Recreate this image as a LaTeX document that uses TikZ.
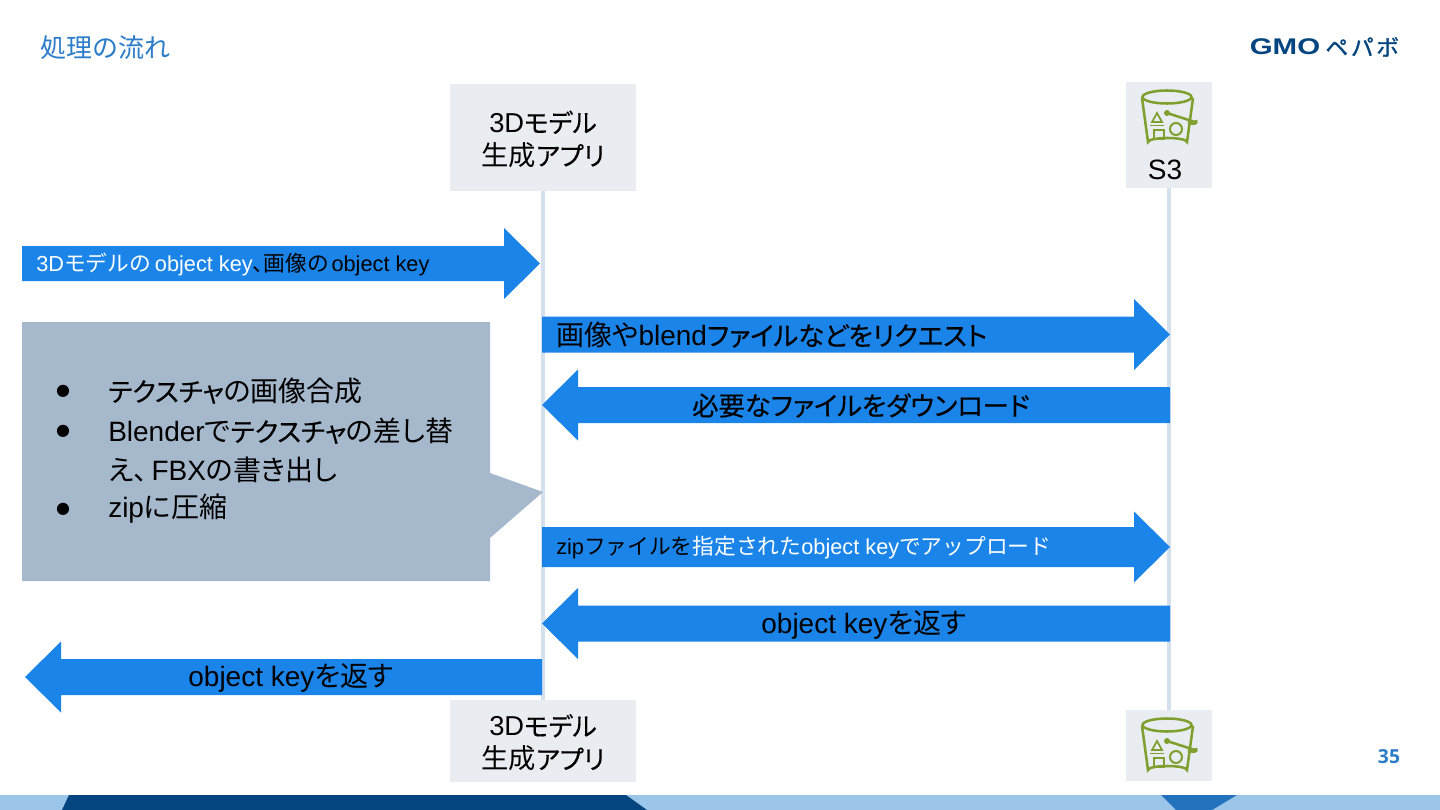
\documentclass[tikz,border=0pt]{standalone}
\usepackage{fontspec}
\setmainfont{Liberation Sans}
\newfontfamily\cjk{Noto Sans CJK JP}
\newfontfamily\cjkp[RawFeature=+palt]{Noto Sans CJK JP}
\newfontfamily\cjkb[Scale=0.94,RawFeature=+palt,FakeBold=0.35]{Noto Sans CJK JP}
\newfontfamily\logofont[RawFeature=+palt,FakeBold=1.2]{Noto Sans CJK JP}
\newfontfamily\numfont{Open Sans}
\newfontfamily\dotfont{DejaVu Sans}
\usetikzlibrary{calc}
\definecolor{flowblue}{HTML}{1A84E8}
\definecolor{calloutgray}{HTML}{A5B8CC}
\definecolor{boxgray}{HTML}{E9EDF2}
\definecolor{lifeblue}{HTML}{D5E0EE}
\definecolor{titleblue}{HTML}{2B7CC9}
\definecolor{bandlight}{HTML}{9CC5EA}
\definecolor{banddark}{HTML}{04457F}
\definecolor{bandmid}{HTML}{2272BD}
\definecolor{bucketgreen}{HTML}{7F9F2E}
\newcommand{\jn}[1]{{\cjk #1}}
\newcommand{\ja}[1]{{\cjkp #1}}
\newcommand{\jk}[1]{{\cjkb #1}}
% right and left block arrows: from x, to x, y, half shaft
\newcommand{\flowR}[4]{
	\fill[flowblue] (#1,#3-#4) -- (#2-36,#3-#4) -- (#2-36,#3-35.5) -- (#2,#3) -- (#2-36,#3+35.5) -- (#2-36,#3+#4) -- (#1,#3+#4) -- cycle;
}
\newcommand{\flowL}[4]{
	\fill[flowblue] (#1,#3-#4) -- (#2+36,#3-#4) -- (#2+36,#3-35.5) -- (#2,#3) -- (#2+36,#3+35.5) -- (#2+36,#3+#4) -- (#1,#3+#4) -- cycle;
}
\newcommand{\bucketIcon}[1]{
	\begin{scope}[shift={#1}, draw=bucketgreen, line width=1.9pt]
		\draw (0,0) ellipse (24.5 and 6.5);
		\draw (-25,1) -- (-19,45) arc (180:360:19.5 and 4) -- (26,1);
		\draw[line width=1.3pt] (-10,16) -- (-5,25) -- (-15,25) -- cycle;
		\draw[line width=1.3pt] (-17,28.5) -- (-3,28.5);
		\draw[line width=1.5pt] (-13,33) rectangle (-3,42);
		\draw[line width=1.5pt] (9,32) circle (6);
		\draw (0,16) -- (28,25);
		\draw (29,23) .. controls (31,27) and (26,28) .. (21,25);
		\fill[bucketgreen] (0,16) circle (3);
	\end{scope}
}
\tikzset{
	lifebox/.style={fill=boxgray, inner sep=0pt, align=center, font=\fontsize{20.5}{24.75}\selectfont},
	lifeline/.style={draw=lifeblue, line width=2.6pt},
	flowtext/.style={inner sep=0pt, font=\fontsize{21}{24}\selectfont},
	smalltext/.style={inner sep=0pt, font=\fontsize{16.3}{20}\selectfont},
	listtext/.style={inner sep=0pt, anchor=west, font=\fontsize{21}{24}\selectfont},
}
\begin{document}
\begin{tikzpicture}[x=.75pt, y=-.75pt]
	\useasboundingbox (0,0) rectangle (1440,810);
	\fill[white] (0,0) rectangle (1440,810);
	% footer band
	\fill[bandlight] (0,795) rectangle (1440,810);
	\fill[banddark] (69,795) -- (626,795) -- (647,810) -- (62,810) -- cycle;
	\fill[bandmid] (1161,795) -- (1237,795) -- (1212,810) -- (1176,810) -- cycle;
	% header
	\node[inner sep=0pt, anchor=west, text=titleblue, font=\fontsize{19.5}{22}\selectfont] (title) at (40,48) {\jn{処理の流れ}};
	\node[inner sep=0pt, text=banddark, font=\fontsize{17}{18}\bfseries\selectfont, xscale=1.3] (logoGmo) at (1285,47) {GMO};
	\node[inner sep=0pt, anchor=west, text=banddark, font=\fontsize{17}{18}\logofont] (logoKana) at (1325,47) {ペ\hspace{2.5pt}パ\hspace{2.5pt}ボ};
	\node[inner sep=0pt, text=titleblue, font=\fontsize{14.5}{18}\bfseries\numfont] (pageNum) at (1389,757) {35};
	% lifeline boxes
	\node[lifebox, minimum width=186*.75pt, minimum height=107*.75pt] (appTop) at (543,137.5) {\rule{0pt}{19pt}3D\jk{モデル}\\\ja{生成}\jk{アプリ}};
	\node[lifebox, minimum width=186*.75pt, minimum height=82*.75pt] (appBot) at (543,741) {\rule{0pt}{19pt}3D\jk{モデル}\\\ja{生成}\jk{アプリ}};
	\node[lifebox, minimum width=86*.75pt, minimum height=106*.75pt] (s3Top) at (1169,135) {};
	\node[lifebox, minimum width=86*.75pt, minimum height=71*.75pt] (s3Bot) at (1169,745.5) {};
	\draw[lifeline] (appTop) -- (appBot);
	\draw[lifeline] (s3Top) -- (s3Bot);
	\bucketIcon{(1167,97)}
	\bucketIcon{(1167,725)}
	\node[inner sep=0pt, font=\fontsize{21}{24}\selectfont] (s3Label) at (1165,170) {S3};
	% callout
	\fill[calloutgray] (22,322) -- (490,322) -- (490,473) -- (543,492) -- (490,538) -- (490,581) -- (22,581) -- cycle;
	\foreach \name/\ypos in {dotA/391, dotB/431, dotD/509}
		\node[inner sep=0pt, font=\fontsize{12}{14}\dotfont] (\name) at (63,\ypos) {●};
	\node[listtext] (listA) at (108,391) {\jk{テクスチャ}\ja{の画像合成}};
	\node[listtext] (listB) at (108,431) {Blender\ja{で}\jk{テクスチャ}\ja{の差し替}};
	\node[listtext] (listC) at (108,470) {\ja{え、}\hspace{3pt}FBX\ja{の書き出し}};
	\node[listtext] (listD) at (108,509) {zip\ja{に圧縮}};
	% arrows
	\flowR{22}{540}{263.5}{17.5}
	\node[smalltext, anchor=west] (msgKeys) at (36,264) {\textcolor{white}{3D\jn{モデルの}\hspace{3pt}object key}\ja{、}\jn{画像の}\hspace{2pt}object key};
	\flowR{542}{1170}{334.5}{18}
	\node[flowtext, anchor=west] (msgRequest) at (556,335) {\ja{画像や}blend\jk{ファイルなどをリクエスト}};
	\flowL{1170}{542}{405}{18}
	\node[flowtext] (msgDownload) at (861,405.5) {\jk{必要なファイルをダウンロード}};
	\flowR{542}{1170}{547}{20}
	\node[smalltext, anchor=west] (msgUpload) at (556,548) {zip\jn{ファイルを}\textcolor{white}{\jn{指定された}object key\jn{でアップロード}}};
	\flowL{1170}{542}{623.5}{18}
	\node[flowtext] (msgReturnA) at (864,625) {object key\ja{を返す}};
	\flowL{542}{25}{677}{18}
	\node[flowtext] (msgReturnB) at (291,678) {object key\ja{を返す}};
\end{tikzpicture}
\end{document}
